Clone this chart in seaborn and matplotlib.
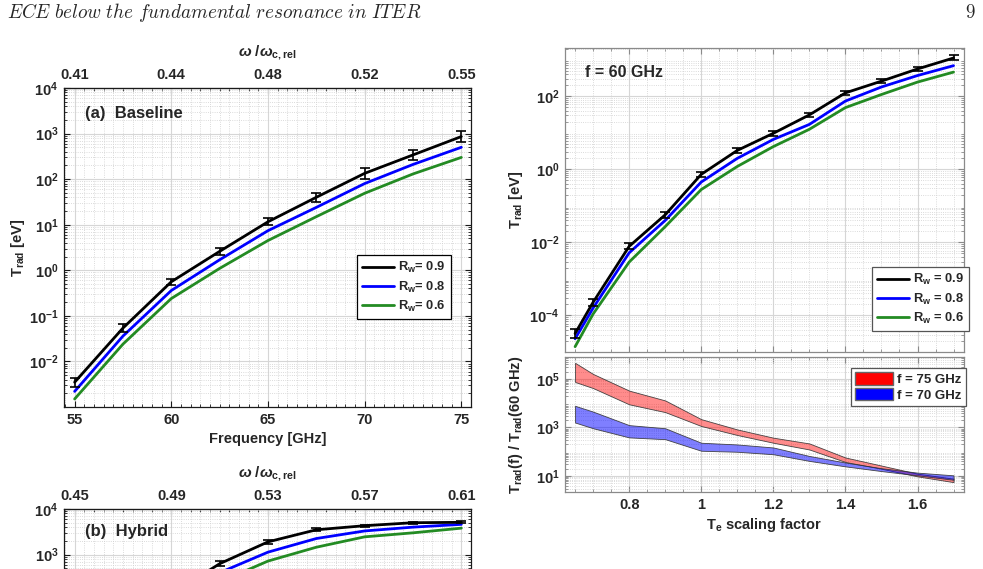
import numpy as np
import pandas as pd
import matplotlib
matplotlib.use("Agg")
import matplotlib.pyplot as plt
import seaborn as sns
from matplotlib.ticker import FixedLocator, FuncFormatter, MultipleLocator, NullFormatter
from matplotlib.lines import Line2D
from matplotlib.patches import Patch

# ---------------- data ----------------
freq = [55, 57.5, 60, 62.5, 65, 67.5, 70, 72.5, 75]
freq_ticks = [55, 60, 65, 70, 75]
base_top_labels = ["0.41", "0.44", "0.48", "0.52", "0.55"]
hyb_top_labels = ["0.45", "0.49", "0.53", "0.57", "0.61"]

base_r09 = [3.5e-3, 0.054, 0.56, 2.6, 11.6, 40, 134, 340, 860]
base_r08 = [2.2e-3, 0.036, 0.36, 1.7, 7.4, 24, 80, 210, 500]
base_r06 = [1.5e-3, 0.024, 0.24, 1.1, 4.5, 15, 49, 130, 300]
base_err = [0.25, 0.25, 0.16, 0.2, 0.2, 0.25, 0.3, 0.3, 0.3]

hyb_r09 = [0.05, 2.0, 135, 630, 1900, 3500, 4300, 5000, 5100]
hyb_r08 = [0.03, 1.2, 60, 400, 1130, 2250, 3300, 4000, 4600]
hyb_r06 = [0.02, 0.7, 30, 250, 720, 1450, 2450, 3000, 3800]
hyb_err = [0.1, 0.1, 0.12, 0.12, 0.1, 0.08, 0.06, 0.05, 0.05]

te_scale = [0.65, 0.7, 0.8, 0.9, 1.0, 1.1, 1.2, 1.3, 1.4, 1.5, 1.6, 1.7]
te_r09 = [3.2e-5, 2.3e-4, 7.8e-3, 0.057, 0.73, 3.3, 9.7, 31, 124, 260, 560, 1120]
te_r08 = [2.3e-5, 1.6e-4, 5.2e-3, 0.040, 0.45, 2.0, 6.6, 17, 74, 180, 370, 690]
te_r06 = [1.4e-5, 1.1e-4, 2.9e-3, 0.027, 0.28, 1.2, 4.2, 12.5, 49, 112, 245, 460]
te_err = [0.3, 0.25, 0.2, 0.2, 0.15, 0.15, 0.15, 0.15, 0.15, 0.15, 0.15, 0.17]

ratio75_hi = [4.6e5, 1.6e5, 3.3e4, 1.3e4, 2.2e3, 830, 380, 220, 58, 27, 12.5, 7.8]
ratio75_lo = [7.5e4, 4.2e4, 9.0e3, 4.3e3, 1.15e3, 490, 235, 124, 38, 20, 9.7, 5.6]
ratio70_hi = [7.8e3, 4.5e3, 1.25e3, 930, 235, 200, 150, 67, 36, 21, 13.8, 10.7]
ratio70_lo = [1.6e3, 930, 390, 330, 110, 100, 79, 42, 25, 16, 10.7, 7.0]

rw_labels = ["R$_{\\mathbf{w}}$= 0.9", "R$_{\\mathbf{w}}$= 0.8", "R$_{\\mathbf{w}}$= 0.6"]
rw_labels_r = ["R$_{\\mathbf{w}}$ = 0.9", "R$_{\\mathbf{w}}$ = 0.8", "R$_{\\mathbf{w}}$ = 0.6"]
band_labels = ["f = 75 GHz", "f = 70 GHz"]
line_colors = ["#000000", "#0000ff", "#238b23"]

# ---------------- style ----------------
sns.set_style("ticks")
plt.rcParams["font.family"] = ["Liberation Sans", "DejaVu Sans"]
plt.rcParams["font.weight"] = "bold"
plt.rcParams["axes.labelweight"] = "bold"
plt.rcParams["mathtext.fontset"] = "custom"
plt.rcParams["mathtext.rm"] = "Liberation Sans:bold"
plt.rcParams["mathtext.bf"] = "Liberation Sans:bold"
plt.rcParams["mathtext.it"] = "Liberation Sans:italic:bold"
plt.rcParams["mathtext.sf"] = "Liberation Sans:bold"

W, H = 983, 569
fig = plt.figure(figsize=(W / 100, H / 100), dpi=100)


def px_axes(left, top, right, bottom):
    return fig.add_axes([left / W, 1 - bottom / H, (right - left) / W, (bottom - top) / H])


def logfmt(v, pos):
    e = int(round(np.log10(v)))
    return r"$\mathbf{10^{%d}}$" % e


def style_axes(ax, frame_color, yticks, xminor):
    ax.set_yscale("log")
    ax.yaxis.set_major_locator(FixedLocator(yticks))
    ax.yaxis.set_major_formatter(FuncFormatter(logfmt))
    minors = [m * 10.0 ** k for k in range(-8, 8) for m in range(2, 10)]
    ax.yaxis.set_minor_locator(FixedLocator(minors))
    ax.yaxis.set_minor_formatter(NullFormatter())
    ax.xaxis.set_minor_locator(MultipleLocator(xminor))
    ax.grid(True, which="major", color="#d6d6d6", lw=0.8, ls="-")
    ax.grid(True, which="minor", color="#cfcfcf", lw=0.6, ls=":")
    ax.set_axisbelow(True)
    for s in ax.spines.values():
        s.set_color(frame_color)
        s.set_linewidth(0.9)
    ax.tick_params(which="both", direction="in", top=True, right=True, color=frame_color,
                   labelsize=10.5, pad=4)
    ax.tick_params(which="major", length=4)
    ax.tick_params(which="minor", length=2)
    for lab in ax.get_xticklabels() + ax.get_yticklabels():
        lab.set_fontweight("bold")


def draw_rw(ax, x, ys, err):
    df = pd.DataFrame({
        "x": list(x) * 3,
        "y": list(ys[0]) + list(ys[1]) + list(ys[2]),
        "Rw": ["0.9"] * len(x) + ["0.8"] * len(x) + ["0.6"] * len(x),
    })
    sns.lineplot(data=df, x="x", y="y", hue="Rw", hue_order=["0.6", "0.8", "0.9"],
                 palette={"0.9": line_colors[0], "0.8": line_colors[1], "0.6": line_colors[2]},
                 lw=2.0, ax=ax, legend=False, estimator=None, sort=True)
    y9 = np.array(ys[0])
    e = np.array(err)
    ax.errorbar(x, y9, yerr=[y9 - y9 / (1 + e), y9 * e], fmt="none", ecolor="black",
                elinewidth=1.2, capsize=3.5, capthick=1.2, zorder=5)
    ax.set_xlabel("")
    ax.set_ylabel("")


def top_axis(ax, labels):
    sec = ax.secondary_xaxis("top")
    sec.set_xticks(freq_ticks)
    sec.set_xticklabels(labels, fontweight="bold")
    sec.xaxis.set_minor_locator(MultipleLocator(0.5))
    sec.tick_params(which="both", direction="in", color="#1a1a1a", labelsize=10.5, pad=4)
    sec.tick_params(which="major", length=4)
    sec.tick_params(which="minor", length=2)
    sec.spines["top"].set_color("#1a1a1a")
    sec.set_xlabel("$\\omega$ /$\\omega_{\\mathbf{c,rel}}$", fontsize=11, labelpad=9)
    return sec


def style_legend(leg, edge):
    leg.get_frame().set_edgecolor(edge)
    leg.get_frame().set_linewidth(0.9)
    leg.get_frame().set_alpha(1)
    for t in leg.get_texts():
        t.set_fontweight("bold")


handles = [Line2D([], [], color=c, lw=2.0) for c in line_colors]

# ---------------- panel (a) ----------------
axa = px_axes(64, 88, 471, 407)
draw_rw(axa, freq, [base_r09, base_r08, base_r06], base_err)
axa.set_xlim(54.45, 75.5)
axa.set_ylim(1e-3, 1e4)
style_axes(axa, "#1a1a1a", [1e-2, 1e-1, 1e0, 1e1, 1e2, 1e3, 1e4], 0.5)
axa.set_xticks(freq_ticks)
axa.tick_params(axis="x", which="both", top=False)
axa.set_xlabel("Frequency [GHz]", fontsize=10.5, fontweight="bold", labelpad=4)
axa.set_ylabel("T$_{\\mathbf{rad}}$ [eV]", fontsize=10.5, fontweight="bold", labelpad=1)
top_axis(axa, base_top_labels)
axa.text(0.052, 0.92, "(a)  Baseline", transform=axa.transAxes, fontsize=12,
         fontweight="bold", va="center", ha="left")
leg = axa.legend(handles, rw_labels, loc="upper left", bbox_to_anchor=(357 / W, 1 - 255 / H),
                 bbox_transform=fig.transFigure, fontsize=9.3, frameon=True, fancybox=False,
                 handlelength=2.5, handletextpad=0.3, labelspacing=0.32, borderpad=0.4,
                 borderaxespad=0)
style_legend(leg, "black")

# ---------------- panel (b) (cropped by the page) ----------------
axb = px_axes(64, 509, 471, 828)
draw_rw(axb, freq, [hyb_r09, hyb_r08, hyb_r06], hyb_err)
axb.set_xlim(54.45, 75.5)
axb.set_ylim(1e-3, 1e4)
style_axes(axb, "#1a1a1a", [1e3, 1e4], 0.5)
axb.set_xticks(freq_ticks)
axb.tick_params(axis="x", which="both", top=False, labelbottom=False)
top_axis(axb, hyb_top_labels)
axb.text(0.052, 0.929, "(b)  Hybrid", transform=axb.transAxes, fontsize=12,
         fontweight="bold", va="center", ha="left")

# ---------------- right top: f = 60 GHz ----------------
axr = px_axes(565, 48, 964, 352)
draw_rw(axr, te_scale, [te_r09, te_r08, te_r06], te_err)
axr.set_xlim(0.622, 1.729)
axr.set_ylim(1e-5, 2.1e3)
style_axes(axr, "#8a8a8a", [1e-4, 1e-2, 1e0, 1e2], 0.05)
axr.set_xticks([0.8, 1.0, 1.2, 1.4, 1.6])
axr.tick_params(axis="x", labelbottom=False)
axr.set_ylabel("T$_{\\mathbf{rad}}$ [eV]", fontsize=10.5, fontweight="bold")
axr.text(0.05, 0.921, "f = 60 GHz", transform=axr.transAxes, fontsize=11.5,
         fontweight="bold", va="center", ha="left")
legr = axr.legend(handles, rw_labels_r, loc="upper left", bbox_to_anchor=(872 / W, 1 - 267 / H),
                  bbox_transform=fig.transFigure, fontsize=9.3, frameon=True, fancybox=False,
                  handlelength=2.5, handletextpad=0.3, labelspacing=0.32, borderpad=0.4,
                  borderaxespad=0)
style_legend(legr, "#555555")

# ---------------- right bottom: ratio ----------------
axq = px_axes(565, 357, 964, 492)
axq.fill_between(te_scale, ratio75_lo, ratio75_hi, facecolor=(1, 0, 0, 0.45),
                 edgecolor=(0.2, 0.2, 0.2, 0.9), lw=0.6)
axq.fill_between(te_scale, ratio70_lo, ratio70_hi, facecolor=(0, 0, 1, 0.5),
                 edgecolor=(0.2, 0.2, 0.2, 0.9), lw=0.6)
axq.set_xlim(0.622, 1.729)
axq.set_ylim(2.2, 8e5)
style_axes(axq, "#8a8a8a", [1e1, 1e3, 1e5], 0.05)
axq.set_xticks([0.8, 1.0, 1.2, 1.4, 1.6])
axq.set_xticklabels(["0.8", "1", "1.2", "1.4", "1.6"], fontweight="bold")
axq.set_xlabel("T$_{\\mathbf{e}}$ scaling factor", fontsize=10.5, fontweight="bold", labelpad=3)
axq.set_ylabel("T$_{\\mathbf{rad}}$(f) / T$_{\\mathbf{rad}}$(60 GHz)", fontsize=10.5,
               fontweight="bold")
phandles = [Patch(facecolor="#ff0000", edgecolor="#666666"),
            Patch(facecolor="#0000ff", edgecolor="#666666")]
legq = axq.legend(phandles, band_labels, loc="upper left", bbox_to_anchor=(851 / W, 1 - 368 / H),
                  bbox_transform=fig.transFigure, fontsize=9.5, frameon=True, fancybox=False,
                  handlelength=2.9, handleheight=1.1, handletextpad=0.3, labelspacing=0.15,
                  borderpad=0.3, borderaxespad=0)
style_legend(legq, "#555555")

# align right-panel y labels
axr.yaxis.set_label_coords(-0.1, 0.5)
axq.yaxis.set_label_coords(-0.1, 0.5)

# ---------------- page header ----------------
fig.text(7 / W, 1 - 13 / H, r"$ECE\ below\ the\ fundamental\ resonance\ in\ ITER$",
         math_fontfamily="cm", fontsize=13.8, ha="left", va="center")
fig.text(976 / W, 1 - 13 / H, r"$9$", math_fontfamily="cm", fontsize=13.8, ha="right", va="center")

fig.savefig("out.png", dpi=100)
